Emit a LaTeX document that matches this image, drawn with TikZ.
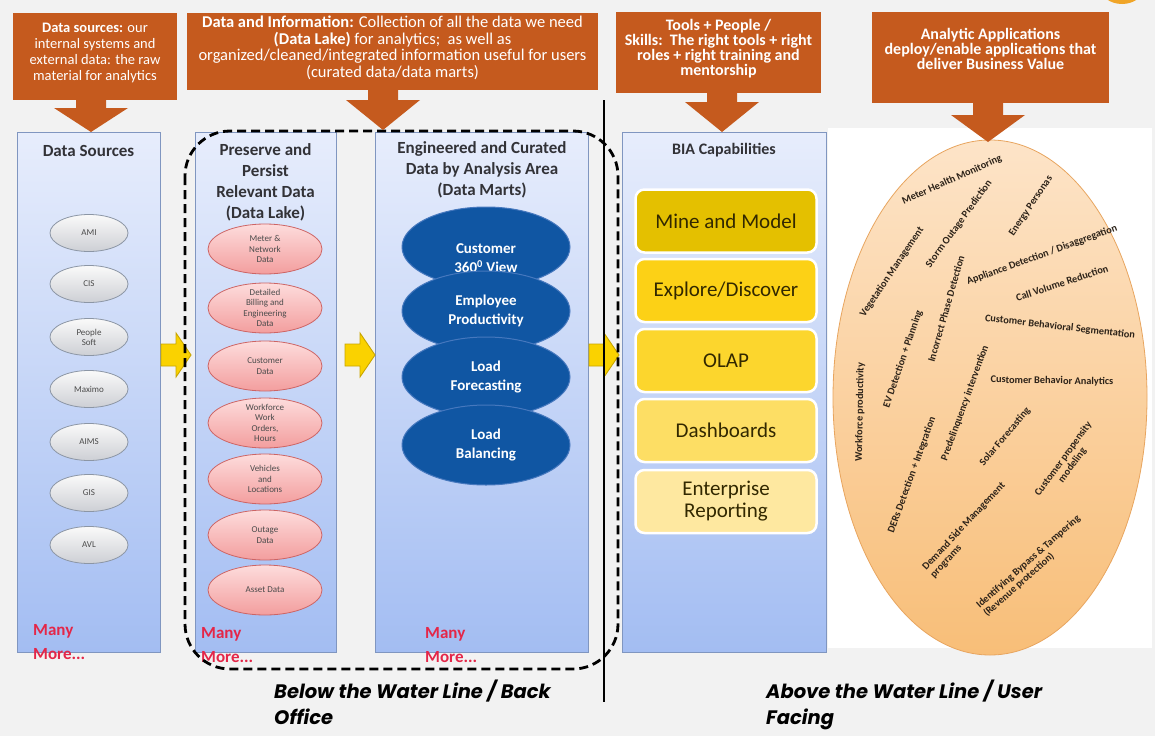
\documentclass[tikz,border=0pt]{standalone}
\usepackage{fontspec}
\setmainfont{Carlito}
\newfontfamily\gothicfont{Poppins}
\usetikzlibrary{shapes.geometric}

\definecolor{bg}{RGB}{242,242,242}
\definecolor{callout}{RGB}{197,90,30}
\definecolor{coltop}{RGB}{231,237,252}
\definecolor{colbot}{RGB}{163,189,242}
\definecolor{coledge}{RGB}{128,150,192}
\definecolor{titleink}{RGB}{50,50,55}
\definecolor{graytop}{RGB}{250,250,250}
\definecolor{graybot}{RGB}{205,207,212}
\definecolor{grayedge}{RGB}{140,150,165}
\definecolor{ovalink}{RGB}{75,75,75}
\definecolor{pinktop}{RGB}{253,220,220}
\definecolor{pinkbot}{RGB}{243,158,158}
\definecolor{pinkedge}{RGB}{205,100,100}
\definecolor{martblue}{RGB}{16,86,163}
\definecolor{martedge}{RGB}{70,120,190}
\definecolor{manyred}{RGB}{228,38,72}
\definecolor{gold1}{RGB}{228,192,0}
\definecolor{gold2}{RGB}{252,209,22}
\definecolor{gold3}{RGB}{252,214,45}
\definecolor{gold4}{RGB}{253,222,100}
\definecolor{gold5}{RGB}{254,232,160}
\definecolor{goldtext}{RGB}{50,40,0}
\definecolor{peachtop}{RGB}{253,228,200}
\definecolor{peachbot}{RGB}{248,190,120}
\definecolor{peachedge}{RGB}{232,165,95}
\definecolor{apptext}{RGB}{45,35,25}
\definecolor{arrowyellow}{RGB}{250,210,0}
\definecolor{arrowedge}{RGB}{200,165,0}
\definecolor{sunorange}{RGB}{240,165,40}

\tikzset{
  callbox/.style={fill=callout, draw=none, inner sep=0pt},
  calltext/.style={text=white, align=center, inner sep=0pt},
  column/.style={draw=coledge, line width=0.9pt, top color=coltop, bottom color=colbot,
    inner sep=0pt, minimum height=520pt},
  coltitle/.style={font=\bfseries\fontsize{17}{21}\selectfont, text=titleink, align=center, inner sep=0pt},
  grayoval/.style={ellipse, draw=grayedge, line width=0.8pt, top color=graytop, bottom color=graybot,
    minimum width=78pt, minimum height=37pt, inner sep=0pt,
    font=\fontsize{9}{10}\selectfont, text=ovalink, align=center},
  pinkoval/.style={ellipse, draw=pinkedge, line width=0.8pt, top color=pinktop, bottom color=pinkbot,
    minimum width=114pt, minimum height=50pt, inner sep=0pt},
  pinktext/.style={font=\fontsize{9}{10.5}\selectfont, text=ovalink, align=center, inner sep=0pt},
  martoval/.style={ellipse, draw=martedge, line width=1pt, fill=martblue,
    minimum width=168pt, minimum height=80pt, inner sep=0pt, text=white,
    font=\bfseries\fontsize{15}{19}\selectfont, align=center},
  marttext/.style={text=white, font=\bfseries\fontsize{15}{19}\selectfont, align=center, inner sep=0pt},
  biabox/.style={rounded corners=9pt, draw=white, line width=2.5pt, minimum width=181pt,
    minimum height=63pt, inner sep=0pt, text=goldtext, font=\fontsize{21}{22}\selectfont, align=center},
  applabel/.style={font=\bfseries\fontsize{10.3}{11}\selectfont, text=apptext, inner sep=0pt},
  manymore/.style={font=\bfseries\fontsize{17}{24}\selectfont, text=manyred, align=left,
    inner sep=0pt, anchor=north west},
  waterlabel/.style={font=\gothicfont\bfseries\itshape\fontsize{19.5}{26}\selectfont, text=black,
    align=left, inner sep=0pt, anchor=north west},
  pics/downarrow/.style n args={2}{code={
    \fill[callout] (-15,0) -- (15,0) -- (15,#1) -- (37,#1) -- (0,#1+#2) -- (-37,#1) -- (-15,#1) -- cycle;}},
  pics/yarrow/.style={code={
    \filldraw[fill=arrowyellow, draw=arrowedge, line width=0.9pt, line join=miter]
      (0,-11) -- (15,-11) -- (15,-22) -- (30,0) -- (15,22) -- (15,11) -- (0,11) -- cycle;}}
}

\begin{document}
\begin{tikzpicture}[x=1pt,y=-1pt]
\useasboundingbox (0,0) rectangle (1155,736);
\clip (0,0) rectangle (1155,736);
\fill[bg] (0,0) rectangle (1155,736);
\fill[white] (828,128) rectangle (1152,648);
\fill[sunorange] (1122,-13) ellipse (22pt and 17pt);

% ---- the four columns ----
\node[column, minimum width=143pt] (srccol)  at (88.5,392) {};
\node[column, minimum width=141pt] (lakecol) at (265.5,392) {};
\node[column, minimum width=213pt] (martcol) at (481.5,392) {};
\node[column, minimum width=204pt] (biacol)  at (724,392) {};

\node[coltitle] (srctitle)  at (88.5,151) {Data Sources};
\node[coltitle] (laketitle) at (265.5,182) {Preserve and\\Persist\\Relevant Data\\(Data Lake)};
\node[coltitle] (marttitle) at (482,170) {Engineered and Curated\\Data by Analysis Area\\(Data Marts)};
\node[coltitle, font=\bfseries\fontsize{16}{20}\selectfont] (biatitle) at (724,150) {BIA Capabilities};

% ---- data sources ----
\node[grayoval] (ami)    at (89,233) {AMI};
\node[grayoval] (cis)    at (89,284) {CIS};
\node[grayoval] (psoft)  at (89,337) {People\\Soft};
\node[grayoval] (maximo) at (89,389) {Maximo};
\node[grayoval] (aims)   at (89,442) {AIMS};
\node[grayoval] (gis)    at (89,493) {GIS};
\node[grayoval] (avl)    at (89,545) {AVL};

% ---- data lake ----
\node[pinkoval] (meter)    at (265,249) {};
\node[pinktext] at (meter) {Meter \&\\Network\\Data};
\node[pinkoval] (billing)  at (265,308) {};
\node[pinktext] at (billing) {Detailed\\Billing and\\Engineering\\Data};
\node[pinkoval] (custdata) at (265,366) {};
\node[pinktext] at (custdata) {Customer\\Data};
\node[pinkoval] (workforce) at (265,423) {};
\node[pinktext] at (workforce) {Workforce\\Work\\Orders,\\Hours};
\node[pinkoval] (vehicles) at (265,479) {};
\node[pinktext] at (vehicles) {Vehicles\\and\\Locations};
\node[pinkoval] (outage)   at (265,535) {};
\node[pinktext] at (outage) {Outage\\Data};
\node[pinkoval] (asset)    at (265,590) {};
\node[pinktext] at (asset) {Asset Data};

% ---- data marts (each one overlaps the one above) ----
\node[martoval] (cust360)  at (486,247) {};
\node[marttext] at (486,258) {Customer\\360\textsuperscript{0} View};
\node[martoval] (employee) at (486,311) {Employee\\Productivity};
\node[martoval] (loadfc)   at (486,377) {Load\\Forecasting};
\node[martoval] (loadbal)  at (486,445) {Load\\Balancing};

% ---- BIA capabilities ----
\node[biabox, fill=gold1] (mine)    at (726,221)   {Mine and Model};
\node[biabox, fill=gold2] (explore) at (726,290.5) {Explore/Discover};
\node[biabox, fill=gold3] (olap)    at (726,360.5) {OLAP};
\node[biabox, fill=gold4] (dash)    at (726,430.5) {Dashboards};
\node[biabox, fill=gold5] (entrep)  at (726,501.5) {Enterprise\\Reporting};

% ---- "Many More..." notes ----
\node[manymore] (more1) at (33,624)  {Many\\More...};
\node[manymore] (more2) at (201,627) {Many\\More...};
\node[manymore] (more3) at (425,627) {Many\\More...};

% ---- flow arrows between columns ----
\pic at (161,355) {yarrow};
\pic at (345,355) {yarrow};
\pic at (589,355) {yarrow};

% ---- analytic applications ----
\node[ellipse, draw=peachedge, line width=0.8pt, top color=peachtop, bottom color=peachbot,
  minimum width=314pt, minimum height=515pt, inner sep=0pt] (apps) at (990,397.5) {};
\node[applabel, rotate=24]  (a1)  at (952,180) {Meter Health Monitoring};
\node[applabel, rotate=54]  (a2)  at (959,224) {Storm Outage Prediction};
\node[applabel, rotate=56]  (a3)  at (1031,206) {Energy Personas};
\node[applabel, rotate=56]  (a4)  at (892,272) {Vegetation Management};
\node[applabel, rotate=20]  (a5)  at (1042,255) {Appliance Detection / Disaggregation};
\node[applabel, rotate=74]  (a6)  at (946,309) {Incorrect Phase Detection};
\node[applabel, rotate=18]  (a7)  at (1062,283) {Call Volume Reduction};
\node[applabel, rotate=-6.5] (a8) at (1060,327) {Customer Behavioral Segmentation};
\node[applabel, rotate=71]  (a9)  at (903,359) {EV Detection + Planning};
\node[applabel, rotate=89]  (a10) at (860,412) {Workforce productivity};
\node[applabel, rotate=-1]  (a11) at (1052,381) {Customer Behavior Analytics};
\node[applabel, rotate=70]  (a12) at (965,403) {Predelinquency intervention};
\node[applabel, rotate=70]  (a13) at (912,475) {DERs Detection + Integration};
\node[applabel, rotate=50]  (a14) at (1005,437) {Solar Forecasting};
\node[applabel, rotate=54, align=center] (a15) at (1068,462) {Customer propensity\\modeling};
\node[applabel, rotate=47, align=left]   (a16) at (968,530) {Demand Side Management\\programs};
\node[applabel, rotate=41.5, align=left] (a17) at (1032,566) {Identifying Bypass \& Tampering\\(Revenue protection)};

% ---- back-office zone and water line ----
\draw[line width=2.8pt, dash pattern=on 9pt off 5pt, rounded corners=45pt] (185,131) rectangle (618,669);
\coordinate (divtop) at (604,100);
\coordinate (divbot) at (604,702);
\draw[line width=2.5pt] (divtop) -- (divbot);

% ---- callouts ----
\node[callbox, minimum width=164pt, minimum height=87pt] (cb1) at (95,56.5) {};
\node[callbox, minimum width=411pt, minimum height=77pt] (cb2) at (392.5,51.5) {};
\node[callbox, minimum width=205pt, minimum height=81pt] (cb3) at (718.5,52.5) {};
\node[callbox, minimum width=237pt, minimum height=91pt] (cb4) at (990.5,57.5) {};
\pic at (91,100)  {downarrow={8}{24}};
\pic at (383,90)  {downarrow={10}{30}};
\pic at (722,93)  {downarrow={9}{30}};
\pic at (988,103) {downarrow={12}{27}};

\node[calltext, font=\fontsize{14.5}{16}\selectfont] (ct1) at (95,53)
  {\textbf{Data sources:} our\\internal systems and\\external data: the raw\\material for analytics};
\node[calltext, font=\fontsize{16.5}{16.5}\selectfont] (ct2) at (392.5,48)
  {\textbf{Data and Information:} Collection of all the data we need\\\textbf{(Data Lake)} for analytics;\ \ as well as\\organized/cleaned/integrated information useful for users\\(curated data/data marts)};
\node[calltext, font=\bfseries\fontsize{16}{15}\selectfont] (ct3) at (718.5,49)
  {Tools + People /\\Skills:\ \ The right tools + right\\roles + right training and\\mentorship};
\node[calltext, font=\bfseries\fontsize{16}{15}\selectfont] (ct4) at (990.5,49)
  {Analytic Applications\\deploy/enable applications that\\deliver Business Value};

% ---- water line captions ----
\node[waterlabel] (below) at (274,680) {Below the Water Line / Back\\Office};
\node[waterlabel] (above) at (766,680) {Above the Water Line / User\\Facing};
\end{tikzpicture}
\end{document}
